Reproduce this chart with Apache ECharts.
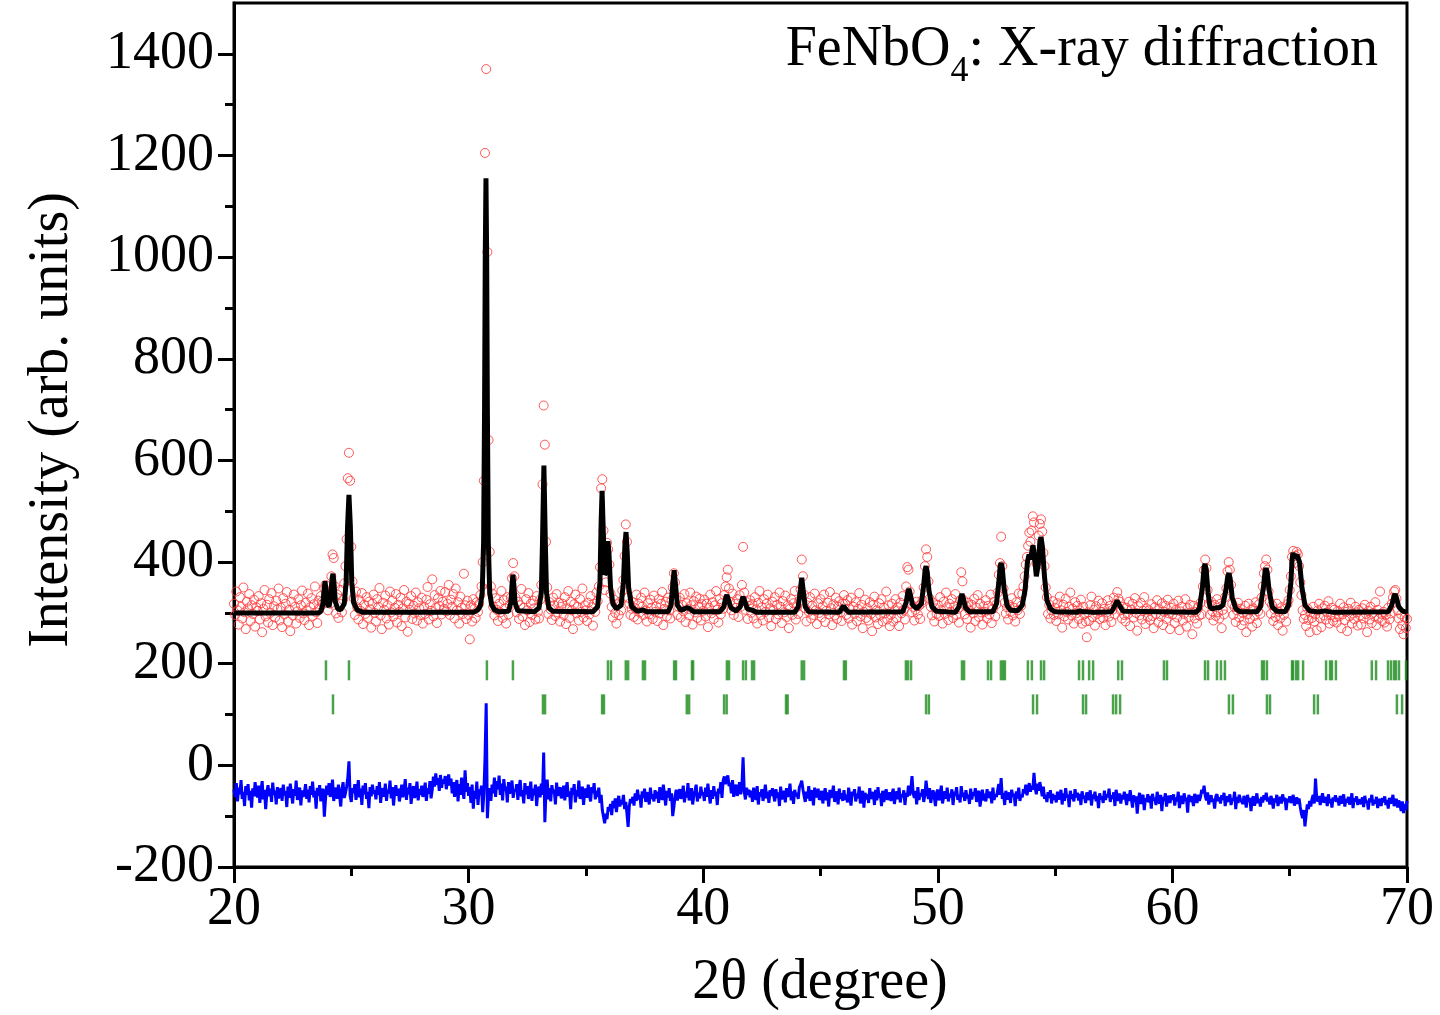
<!DOCTYPE html>
<html lang="en">
<head>
<meta charset="UTF-8">
<title>FeNbO4: X-ray diffraction</title>
<script src="https://cdn.jsdelivr.net/npm/echarts@6/dist/echarts.min.js"></script>
<style>
  html, body { margin: 0; padding: 0; background: #fff; }
  #chart { width: 1440px; height: 1015px; }
</style>
</head>
<body>
<div id="chart"></div>
<script>
// observed intensity: one row per degree, 20 points each (step 0.05 deg), row 0 = 20.00 .. 20.95
const obsStart = 20;
const obsStep = 0.05;
const obsRows = [
  [318, 296, 342, 305, 277, 331, 312, 289, 350, 301, 268, 322, 309, 337, 284, 315, 298, 326, 273, 311],
  [304, 333, 287, 319, 262, 308, 345, 293, 316, 281, 327, 300, 339, 276, 313, 291, 324, 307, 348, 285],
  [310, 272, 329, 297, 318, 341, 283, 306, 264, 322, 295, 336, 312, 279, 303, 327, 290, 315, 344, 299],
  [286, 320, 305, 338, 276, 311, 329, 294, 317, 352, 301, 280, 324, 309, 333, 322, 318, 348, 355, 338],
  [305, 327, 318, 372, 415, 408, 352, 299, 336, 290, 318, 345, 301, 326, 358, 392, 445, 565, 615, 560],
  [430, 362, 329, 296, 342, 311, 287, 325, 304, 339, 278, 316, 298, 331, 290, 322, 307, 271, 318, 336],
  [300, 283, 327, 312, 349, 295, 268, 320, 306, 334, 289, 315, 277, 342, 301, 324, 293, 310, 337, 281],
  [316, 302, 330, 274, 309, 345, 291, 322, 263, 318, 306, 333, 288, 314, 299, 340, 285, 321, 309, 296],
  [330, 279, 312, 298, 326, 351, 287, 317, 304, 366, 293, 335, 310, 280, 329, 314, 343, 297, 322, 308],
  [341, 303, 318, 355, 296, 326, 312, 337, 289, 348, 305, 321, 279, 332, 310, 298, 377, 315, 288, 324],
  [296, 248, 315, 283, 327, 308, 290, 321, 302, 318, 335, 352, 400, 560, 1205, 1370, 1010, 640, 420, 352],
  [338, 312, 295, 329, 306, 284, 318, 301, 343, 290, 325, 309, 279, 331, 297, 316, 330, 368, 398, 372],
  [330, 301, 322, 288, 315, 347, 293, 310, 276, 327, 305, 339, 282, 318, 296, 324, 309, 287, 333, 302],
  [289, 326, 355, 553, 708, 631, 440, 350, 298, 321, 307, 286, 330, 315, 294, 337, 301, 320, 283, 312],
  [318, 296, 331, 278, 309, 343, 290, 322, 305, 268, 317, 336, 299, 312, 285, 327, 302, 348, 291, 315],
  [305, 284, 320, 297, 333, 311, 275, 318, 302, 340, 323, 352, 390, 545, 563, 462, 345, 360, 438, 425],
  [395, 338, 312, 291, 326, 300, 279, 317, 296, 322, 305, 344, 365, 412, 474, 440, 330, 318, 296, 308],
  [321, 292, 309, 336, 287, 318, 301, 330, 312, 296, 340, 305, 283, 319, 297, 326, 310, 288, 334, 302],
  [313, 284, 327, 299, 318, 341, 276, 308, 322, 293, 330, 305, 289, 325, 350, 378, 360, 327, 296, 312],
  [330, 291, 316, 303, 337, 282, 319, 308, 295, 340, 315, 277, 323, 301, 332, 290, 312, 328, 285, 317],
  [304, 326, 293, 318, 272, 310, 336, 299, 321, 288, 315, 343, 306, 281, 327, 297, 319, 308, 335, 352],
  [370, 385, 348, 322, 305, 338, 296, 318, 310, 327, 292, 335, 312, 355, 430, 340, 306, 321, 288, 314],
  [325, 300, 317, 289, 331, 307, 279, 320, 343, 296, 311, 285, 327, 302, 318, 336, 291, 309, 274, 322],
  [305, 331, 288, 316, 297, 340, 312, 280, 323, 301, 334, 292, 315, 270, 308, 327, 296, 319, 343, 287],
  [312, 298, 324, 346, 405, 372, 336, 309, 283, 320, 302, 331, 289, 314, 296, 338, 305, 278, 319, 300],
  [327, 291, 313, 336, 282, 304, 320, 297, 341, 309, 276, 317, 295, 330, 288, 312, 323, 301, 284, 318],
  [335, 318, 296, 325, 289, 307, 330, 277, 312, 298, 321, 284, 308, 339, 293, 316, 270, 302, 326, 290],
  [309, 285, 321, 298, 264, 316, 332, 291, 305, 278, 319, 296, 327, 283, 310, 299, 342, 287, 315, 274],
  [296, 318, 283, 305, 327, 290, 311, 274, 320, 299, 333, 306, 287, 352, 390, 385, 342, 318, 301, 312],
  [285, 306, 322, 297, 314, 288, 318, 325, 350, 392, 425, 410, 362, 328, 312, 295, 320, 283, 309, 298],
  [316, 294, 331, 305, 279, 322, 298, 340, 311, 286, 318, 302, 327, 290, 313, 337, 296, 308, 281, 325],
  [380, 362, 325, 297, 314, 288, 320, 305, 271, 316, 299, 328, 284, 310, 335, 292, 318, 301, 277, 313],
  [302, 325, 289, 314, 297, 336, 280, 308, 322, 293, 317, 340, 375, 398, 450, 392, 348, 320, 299, 311],
  [287, 316, 302, 329, 295, 310, 283, 321, 305, 338, 298, 314, 337, 352, 372, 395, 410, 432, 458, 440],
  [462, 490, 478, 415, 398, 405, 452, 475, 484, 460, 418, 392, 350, 331, 298, 316, 289, 305, 323, 296],
  [310, 284, 319, 297, 332, 305, 271, 316, 293, 328, 302, 287, 312, 340, 295, 308, 279, 321, 299, 314],
  [288, 305, 326, 279, 312, 297, 283, 252, 301, 284, 315, 332, 292, 306, 275, 313, 298, 324, 288, 302],
  [319, 290, 308, 276, 301, 325, 293, 314, 282, 306, 330, 297, 318, 341, 328, 322, 305, 289, 312, 296],
  [283, 310, 297, 322, 274, 306, 318, 291, 329, 300, 265, 313, 295, 320, 287, 304, 331, 278, 309, 292],
  [305, 286, 317, 294, 270, 311, 298, 325, 281, 307, 293, 319, 276, 302, 314, 288, 326, 299, 268, 310],
  [297, 318, 280, 306, 291, 324, 266, 303, 312, 285, 298, 327, 273, 309, 292, 316, 301, 258, 314, 289],
  [302, 279, 311, 295, 320, 297, 352, 384, 405, 388, 345, 318, 296, 322, 303, 285, 316, 294, 327, 301],
  [289, 318, 270, 306, 297, 331, 348, 382, 400, 385, 355, 318, 296, 311, 282, 305, 320, 291, 308, 276],
  [300, 285, 314, 262, 297, 318, 288, 306, 273, 309, 294, 321, 280, 303, 317, 298, 330, 352, 378, 392],
  [405, 385, 342, 322, 298, 315, 284, 307, 292, 318, 276, 302, 289, 311, 265, 296, 308, 283, 317, 325],
  [345, 372, 410, 422, 398, 412, 420, 415, 392, 360, 335, 305, 288, 296, 274, 309, 286, 262, 301, 290],
  [312, 283, 297, 266, 305, 318, 290, 272, 309, 295, 314, 287, 301, 323, 279, 296, 310, 284, 306, 292],
  [281, 304, 293, 318, 270, 297, 311, 286, 302, 264, 308, 293, 320, 279, 299, 288, 312, 301, 275, 306],
  [295, 277, 309, 289, 316, 298, 262, 304, 287, 312, 280, 300, 293, 321, 276, 306, 289, 342, 298, 284],
  [302, 281, 296, 273, 310, 287, 299, 318, 330, 342, 345, 328, 305, 289, 268, 297, 276, 258, 291, 270],
  [288]
];

// difference curve (obs - calc, shifted), same grid as obsRows
const diffRows = [
  [-48, -62, -35, -71, -44, -57, -29, -66, -52, -80, -41, -58, -37, -69, -50, -83, -45, -61, -33, -55],
  [-63, -40, -74, -52, -31, -67, -48, -86, -55, -39, -61, -46, -72, -34, -58, -50, -77, -43, -65, -53],
  [-45, -70, -38, -59, -51, -82, -42, -64, -36, -56, -75, -47, -60, -30, -68, -53, -44, -79, -49, -62],
  [-54, -37, -66, -48, -73, -41, -58, -32, -63, -50, -85, -44, -60, -39, -71, -52, -46, -101, -67, -40],
  [-58, -35, -62, -49, -28, -70, -53, -44, -66, -38, -59, -81, -47, -33, -64, -55, -42, -25, 8, -60],
  [-72, -45, -54, -37, -68, -50, -29, -63, -46, -78, -40, -57, -35, -66, -52, -84, -43, -61, -38, -56],
  [-49, -67, -41, -58, -33, -74, -51, -45, -62, -36, -70, -48, -55, -30, -65, -43, -79, -52, -39, -60],
  [-46, -71, -54, -38, -63, -49, -27, -68, -44, -57, -35, -76, -50, -41, -64, -53, -32, -69, -47, -58],
  [-40, -62, -51, -34, -70, -45, -56, -31, -65, -48, -22, -42, -16, -38, -25, -50, -19, -44, -28, -36],
  [-21, -47, -30, -18, -40, -26, -55, -33, -62, -44, -29, -71, -37, -58, -24, -49, -66, -10, -52, -35],
  [-60, -43, -74, -38, -85, -50, -66, -32, -78, -47, -58, -40, -92, -55, 15, 122, -104, -60, -45, -70],
  [-38, -55, -24, -62, -31, -47, -20, -58, -36, -69, -27, -50, -42, -73, -33, -56, -45, -30, -64, -48],
  [-52, -37, -68, -44, -29, -61, -49, -75, -35, -57, -41, -66, -53, -32, -70, -46, -59, -38, -80, -51],
  [-42, -63, -36, -58, 25, -112, -50, -28, -67, -45, -71, -39, -55, -48, -77, -34, -60, -52, -43, -65],
  [-57, -40, -69, -48, -33, -62, -51, -86, -44, -58, -37, -73, -49, -61, -30, -66, -54, -42, -78, -50],
  [-46, -64, -38, -59, -71, -43, -55, -35, -67, -50, -62, -44, -74, -58, -88, -101, -114, -95, -106, -82],
  [-90, -76, -98, -70, -84, -65, -92, -73, -60, -81, -68, -77, -58, -86, -72, -95, -121, -80, -66, -74],
  [-62, -79, -55, -70, -48, -67, -58, -83, -51, -64, -46, -72, -60, -53, -77, -44, -66, -57, -71, -49],
  [-65, -52, -74, -43, -60, -68, -38, -57, -79, -50, -63, -45, -70, -55, -100, -82, -61, -48, -69, -56],
  [-47, -66, -58, -40, -73, -52, -63, -35, -69, -56, -45, -77, -60, -50, -38, -71, -54, -65, -42, -59],
  [-53, -70, -44, -62, -36, -58, -75, -49, -66, -41, -60, -52, -78, -46, -55, -33, -64, -30, -22, -37],
  [-26, -20, -41, -34, -55, -29, -62, -45, -38, -60, -49, -33, -57, -40, 16, -52, -67, -44, -58, -48],
  [-63, -50, -72, -44, -59, -68, -41, -77, -53, -61, -47, -70, -56, -38, -65, -52, -74, -49, -60, -45],
  [-58, -71, -47, -64, -53, -80, -42, -67, -59, -50, -73, -45, -62, -55, -36, -69, -51, -76, -48, -61],
  [-54, -66, -43, -38, -30, -47, -60, -72, -52, -65, -41, -70, -57, -49, -79, -44, -63, -58, -46, -68],
  [-62, -50, -75, -56, -45, -69, -53, -81, -48, -64, -57, -40, -72, -60, -51, -77, -46, -66, -55, -70],
  [-49, -68, -58, -73, -44, -63, -79, -52, -60, -47, -71, -56, -65, -42, -75, -59, -50, -83, -54, -67],
  [-57, -74, -45, -66, -61, -52, -78, -48, -69, -43, -64, -55, -80, -50, -72, -58, -47, -68, -62, -53],
  [-70, -56, -46, -76, -60, -51, -67, -44, -73, -57, -63, -49, -78, -54, -62, -40, -59, -48, -21, -55],
  [-64, -50, -77, -43, -68, -55, -61, -47, -72, -58, -30, -52, -66, -45, -74, -59, -49, -63, -80, -53],
  [-48, -69, -57, -40, -75, -62, -51, -66, -44, -71, -56, -63, -47, -78, -52, -60, -43, -68, -58, -73],
  [-41, -62, -54, -70, -49, -65, -58, -76, -46, -67, -53, -60, -45, -72, -57, -50, -81, -63, -48, -69],
  [-56, -71, -47, -64, -59, -52, -75, -44, -68, -57, -62, -49, -37, -58, -25, -66, -54, -78, -50, -61],
  [-67, -53, -74, -48, -62, -56, -80, -51, -65, -44, -70, -58, -63, -47, -55, -38, -59, -46, -35, -52],
  [-40, -48, -15, -44, -57, -36, -50, -33, -45, -61, -42, -66, -58, -72, -53, -64, -49, -75, -56, -68],
  [-59, -73, -52, -67, -61, -48, -77, -55, -70, -45, -64, -58, -82, -50, -66, -57, -71, -47, -63, -54],
  [-69, -56, -78, -51, -65, -60, -74, -53, -68, -62, -49, -79, -57, -66, -52, -71, -60, -84, -55, -67],
  [-61, -74, -50, -68, -57, -63, -46, -72, -59, -66, -53, -80, -48, -62, -70, -55, -75, -58, -67, -52],
  [-64, -78, -56, -70, -49, -66, -83, -59, -72, -61, -95, -68, -54, -76, -63, -58, -88, -65, -71, -57],
  [-73, -60, -85, -56, -69, -64, -78, -52, -67, -75, -58, -90, -62, -70, -55, -81, -66, -60, -74, -59],
  [-68, -57, -79, -63, -71, -52, -84, -66, -60, -76, -55, -70, -64, -93, -58, -72, -61, -67, -80, -56],
  [-65, -74, -58, -70, -62, -48, -55, -40, -60, -69, -53, -77, -64, -59, -72, -66, -85, -61, -57, -70],
  [-63, -75, -59, -68, -54, -80, -66, -61, -72, -57, -78, -65, -70, -52, -86, -62, -74, -58, -67, -71],
  [-76, -60, -69, -83, -58, -72, -64, -90, -67, -61, -79, -70, -55, -74, -66, -81, -62, -73, -59, -68],
  [-54, -71, -63, -77, -60, -68, -85, -65, -73, -58, -80, -69, -62, -75, -57, -70, -64, -88, -66, -72],
  [-61, -74, -67, -58, -79, -70, -63, -76, -65, -82, -95, -104, -88, -120, -98, -77, -86, -70, -81, -66],
  [-58, -75, -26, -64, -71, -60, -78, -67, -55, -73, -69, -62, -80, -57, -74, -66, -83, -63, -70, -59],
  [-72, -64, -79, -60, -75, -68, -57, -81, -66, -73, -62, -77, -70, -55, -84, -65, -71, -61, -78, -67],
  [-69, -76, -63, -82, -60, -74, -70, -87, -65, -72, -58, -79, -68, -75, -62, -84, -71, -66, -80, -64],
  [-73, -61, -78, -68, -85, -64, -75, -70, -58, -80, -72, -66, -83, -69, -77, -90, -71, -94, -76, -88],
  [-70]
];

// calculated profile, [2theta, intensity] vertices
const calcCurve = [
  [20, 300], [23.6, 300], [23.7, 303], [23.78, 315], [23.84, 345], [23.88, 362], [23.92, 345], [23.98, 318],
  [24.05, 312], [24.12, 330], [24.18, 368], [24.22, 377], [24.26, 360], [24.32, 322], [24.42, 308], [24.55, 306],
  [24.7, 318], [24.78, 360], [24.84, 470], [24.9, 532], [24.96, 470], [25.02, 360], [25.1, 320], [25.25, 306], [25.5, 301],
  [30.2, 301], [30.4, 306], [30.5, 314], [30.58, 340], [30.64, 440], [30.68, 700], [30.71, 1000], [30.74, 1155],
  [30.77, 1000], [30.8, 700], [30.84, 440], [30.9, 340], [30.98, 316], [31.1, 306], [31.3, 302],
  [31.7, 303], [31.8, 320], [31.85, 355], [31.89, 375], [31.93, 355], [31.98, 320], [32.1, 304],
  [32.8, 302], [33.0, 310], [33.1, 340], [33.15, 440], [33.21, 590], [33.27, 440], [33.32, 340], [33.42, 310], [33.6, 303],
  [35.3, 302], [35.5, 312], [35.6, 360], [35.65, 480], [35.69, 540], [35.74, 460], [35.8, 375], [35.86, 380],
  [35.9, 425], [35.94, 441], [35.98, 420], [36.05, 350], [36.15, 318], [36.3, 308], [36.5, 315], [36.6, 360],
  [36.66, 430], [36.71, 459], [36.76, 420], [36.82, 350], [36.95, 312], [37.2, 303], [37.43, 306], [37.6, 302],
  [38.5, 302], [38.63, 315], [38.7, 355], [38.76, 384], [38.82, 355], [38.9, 315], [39.05, 305], [39.3, 310], [39.4, 309], [39.6, 302],
  [40.7, 302], [40.88, 312], [40.96, 330], [41.01, 335], [41.06, 328], [41.18, 310], [41.4, 304], [41.58, 312],
  [41.66, 327], [41.7, 331], [41.75, 326], [41.88, 308], [42.1, 305], [42.3, 301],
  [43.9, 301], [44.05, 312], [44.14, 345], [44.2, 369], [44.26, 345], [44.35, 312], [44.5, 302],
  [45.8, 301], [45.9, 308], [45.98, 314], [46.06, 308], [46.2, 301],
  [48.5, 302], [48.65, 320], [48.72, 340], [48.77, 347], [48.82, 338], [48.92, 316], [49.1, 308], [49.3, 318],
  [49.4, 355], [49.46, 385], [49.5, 392], [49.55, 380], [49.62, 345], [49.75, 312], [49.95, 303],
  [50.75, 301], [50.9, 312], [50.98, 330], [51.03, 337], [51.08, 330], [51.18, 310], [51.35, 302],
  [52.35, 302], [52.5, 318], [52.6, 360], [52.66, 392], [52.7, 398], [52.75, 388], [52.82, 350], [52.95, 315], [53.1, 305],
  [53.4, 304], [53.6, 315], [53.72, 345], [53.82, 400], [53.89, 415], [53.96, 405], [54.02, 425], [54.06, 433],
  [54.12, 410], [54.2, 372], [54.28, 395], [54.35, 440], [54.4, 449], [54.46, 430], [54.55, 370], [54.65, 325], [54.8, 308], [55.0, 302],
  [55.9, 301], [56.06, 304], [56.2, 302], [56.4, 302], [56.6, 301],
  [57.4, 302], [57.55, 315], [57.64, 324], [57.73, 316], [57.9, 303],
  [61.0, 301], [61.15, 308], [61.28, 350], [61.35, 390], [61.39, 396], [61.44, 385], [61.52, 340], [61.6, 312],
  [61.7, 308], [61.85, 310], [62.0, 310], [62.15, 315], [62.28, 345], [62.36, 372], [62.41, 378], [62.46, 368],
  [62.55, 330], [62.7, 308], [62.9, 302],
  [63.6, 302], [63.75, 312], [63.88, 350], [63.95, 382], [63.99, 388], [64.04, 380], [64.12, 345], [64.25, 312], [64.45, 303],
  [64.8, 302], [64.95, 315], [65.05, 360], [65.1, 405], [65.14, 418], [65.2, 408], [65.26, 405], [65.31, 414],
  [65.36, 416], [65.42, 400], [65.52, 350], [65.65, 315], [65.85, 304], [66.0, 303], [66.2, 302], [66.4, 303],
  [66.5, 304], [66.6, 303], [66.9, 301],
  [69.2, 302], [69.35, 315], [69.44, 332], [69.49, 337], [69.55, 330], [69.65, 312], [69.8, 304], [70, 301]
];

// Bragg reflection positions (2theta) for the two phases
const braggPhase1 = [
  23.92, 24.9, 30.78, 31.89, 35.94, 36.07, 36.7, 36.8, 37.43, 37.52, 38.76, 38.84, 39.52, 39.57,
  41.01, 41.1, 41.7, 41.82, 42.08, 42.17, 44.2, 44.3, 46.0, 46.08, 48.64, 48.73, 48.86, 51.03, 51.12,
  52.14, 52.27, 52.69, 52.78, 52.86, 53.84, 54.01, 54.4, 54.53, 56.02, 56.19, 56.45, 56.62, 57.69, 57.85,
  59.64, 59.77, 61.39, 61.52, 61.9, 62.07, 62.24, 63.82, 63.9, 64.03, 65.1, 65.14, 65.27, 65.36, 65.57,
  66.55, 66.72, 66.8, 66.97, 68.5, 68.68, 69.19, 69.32, 69.45, 69.53, 69.66, 69.96
];
const braggPhase2 = [
  24.22, 33.17, 33.26, 35.69, 35.77, 39.3, 39.4, 40.89, 41.0, 43.53, 43.6, 49.5, 49.62, 54.06, 54.23,
  56.19, 56.32, 57.47, 57.6, 57.77, 62.41, 62.58, 64.03, 64.16, 66.04, 66.2, 69.57, 69.79
];
const braggLevels = [187, 120];

const yMajorTicks = [-200, 0, 200, 400, 600, 800, 1000, 1200, 1400];
const yMinorTicks = [-100, 100, 300, 500, 700, 900, 1100, 1300];

function unroll(rows) {
  const out = [];
  rows.forEach(function (row, r) {
    row.forEach(function (v, c) {
      out.push([+(obsStart + r + c * obsStep).toFixed(2), v]);
    });
  });
  return out;
}

const font = '"Liberation Serif", "Times New Roman", serif';
const chart = echarts.init(document.getElementById('chart'));

chart.setOption({
  animation: false,
  backgroundColor: '#fff',
  grid: {
    left: 234, right: 33, top: 3, bottom: 148,
    show: true, borderColor: '#000', borderWidth: 3, backgroundColor: 'transparent'
  },
  xAxis: {
    type: 'value', min: 20, max: 70, interval: 10,
    axisLine: { show: true, onZero: false, lineStyle: { color: '#000', width: 3 } },
    axisTick: { show: true, length: 16, lineStyle: { color: '#000', width: 3 } },
    minorTick: { show: true, splitNumber: 2, length: 9, lineStyle: { color: '#000', width: 3 } },
    axisLabel: { fontSize: 54, fontFamily: font, color: '#000', margin: 16 },
    splitLine: { show: false }
  },
  yAxis: [{
    type: 'value', min: -200, max: 1500,
    axisLine: { show: true, onZero: false, lineStyle: { color: '#000', width: 3 } },
    axisTick: { show: true, customValues: yMajorTicks, length: 16, lineStyle: { color: '#000', width: 3 } },
    axisLabel: {
      customValues: yMajorTicks, fontSize: 54, fontFamily: font, color: '#000', margin: 20,
      formatter: function (v) { return String(v); }
    },
    splitLine: { show: false }
  }, {
    type: 'value', min: -200, max: 1500, position: 'left', offset: 0,
    axisLine: { show: false },
    axisTick: { show: true, customValues: yMinorTicks, length: 9, lineStyle: { color: '#000', width: 3 } },
    axisLabel: { show: false },
    splitLine: { show: false }
  }],
  graphic: [{
    type: 'text', right: 62, top: 22, z: 10,
    style: {
      text: '{a|FeNbO}{s|4}{a|: X-ray diffraction}',
      rich: {
        a: { fontSize: 56, fontFamily: font, fill: '#000', lineHeight: 80, verticalAlign: 'middle' },
        s: { fontSize: 36, fontFamily: font, fill: '#000', lineHeight: 80, verticalAlign: 'bottom' }
      }
    }
  }, {
    type: 'text', x: 52, y: 420, rotation: Math.PI / 2,
    style: { text: 'Intensity (arb. units)', fontSize: 56, fontFamily: font, fill: '#000', align: 'center', verticalAlign: 'middle' }
  }, {
    type: 'text', x: 820, y: 983,
    style: { text: '2\u03b8 (degree)', fontSize: 56, fontFamily: font, fill: '#000', align: 'center', verticalAlign: 'middle' }
  }],
  series: [{
    name: 'Observed', type: 'scatter', data: unroll(obsRows),
    symbol: 'circle', symbolSize: 9,
    itemStyle: { color: 'rgba(0,0,0,0)', borderColor: '#ff3b3b', borderWidth: 1, opacity: 0.85 },
    z: 2
  }, {
    name: 'Calculated', type: 'line', data: calcCurve,
    symbol: 'none', lineStyle: { color: '#000', width: 5 }, z: 3
  }, {
    name: 'Difference', type: 'line', data: unroll(diffRows),
    symbol: 'none', lineStyle: { color: '#0000ff', width: 3 }, z: 3
  }, {
    name: 'Bragg 1', type: 'scatter', data: braggPhase1.map(function (x) { return [x, braggLevels[0]]; }),
    symbol: 'rect', symbolSize: [2.5, 20], itemStyle: { color: '#1d8c1d' }, z: 4
  }, {
    name: 'Bragg 2', type: 'scatter', data: braggPhase2.map(function (x) { return [x, braggLevels[1]]; }),
    symbol: 'rect', symbolSize: [2.5, 20], itemStyle: { color: '#1d8c1d' }, z: 4
  }]
});
</script>
</body>
</html>
